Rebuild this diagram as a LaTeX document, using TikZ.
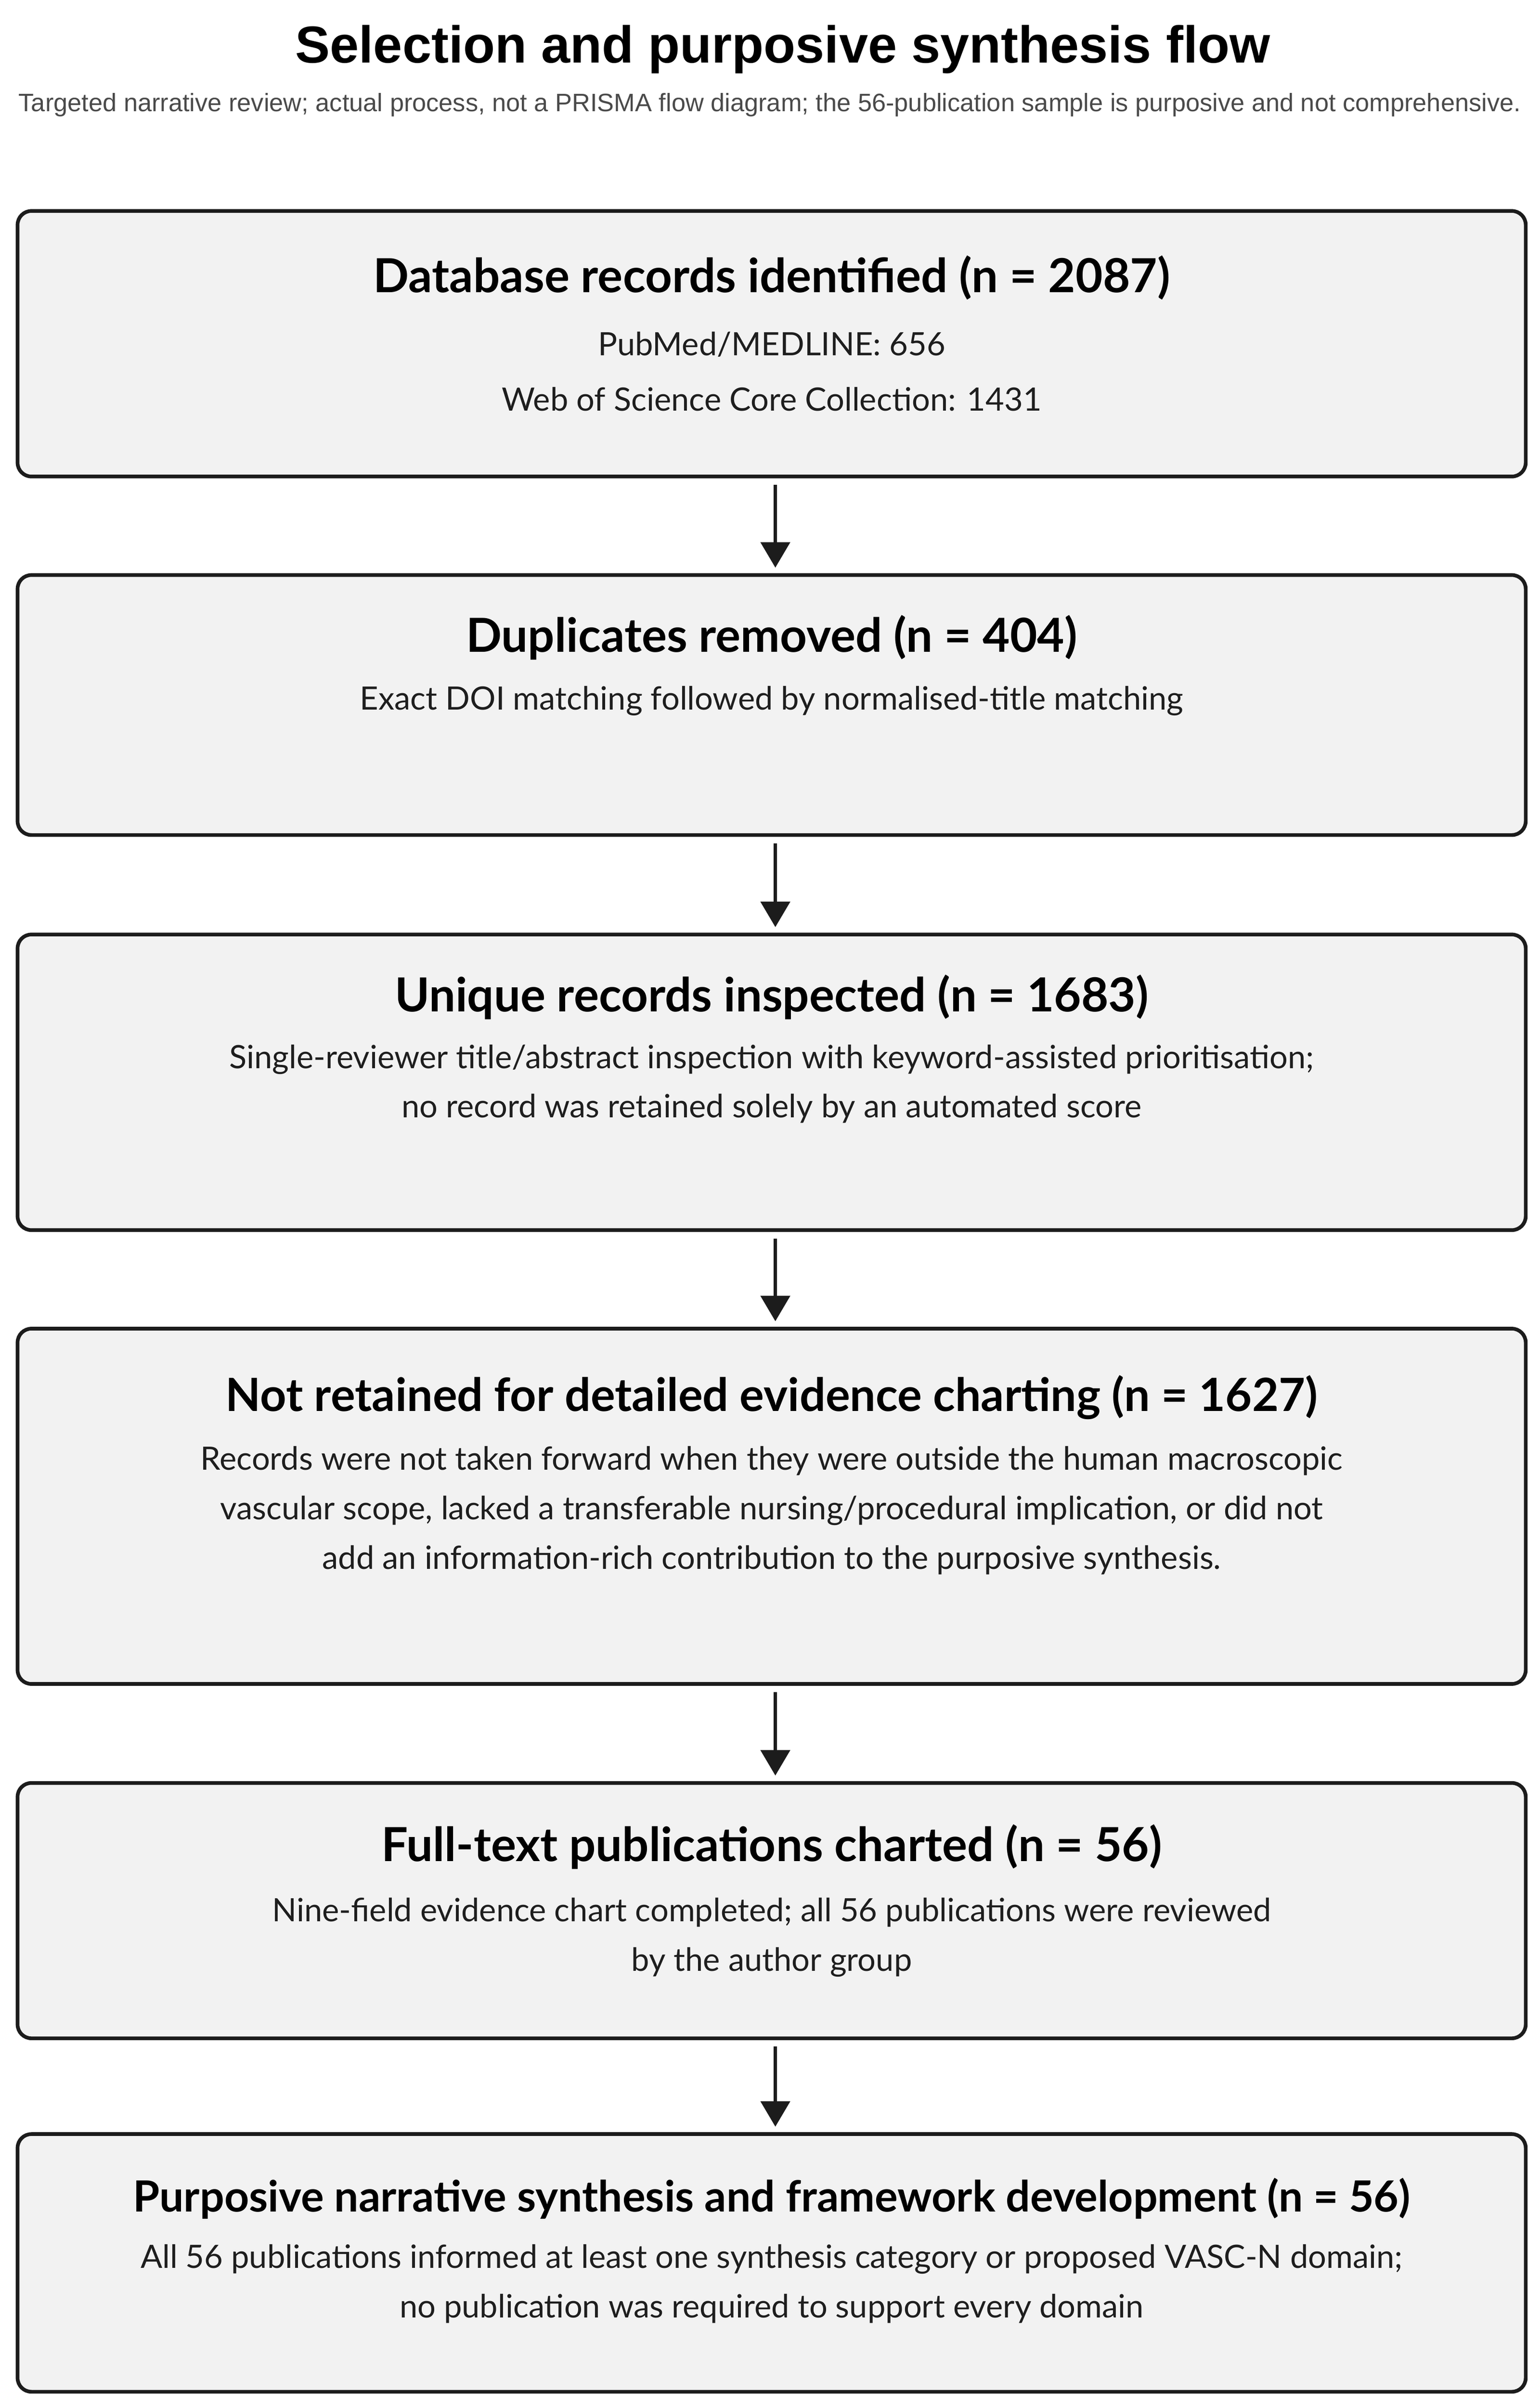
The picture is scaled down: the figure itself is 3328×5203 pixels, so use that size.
\documentclass[tikz,border=0pt]{standalone}
\usepackage{fontspec}
\setmainfont{Lato}
\newfontfamily\titlefont{Liberation Sans}
\usetikzlibrary{arrows.meta}
\definecolor{boxfill}{HTML}{F2F2F2}
\definecolor{boxline}{HTML}{1C1C1C}
\definecolor{subgray}{HTML}{4A4A4A}
\definecolor{bodytext}{HTML}{1E1E1E}
\tikzset{
  flowbox/.style={draw=boxline, fill=boxfill, line width=1.6pt, rounded corners=6pt,
    minimum width=652pt, inner sep=0pt},
  headtext/.style={font=\fontsize{#1}{22}\selectfont\bfseries, text=black, inner sep=0pt},
  headtext/.default=20.3,
  bodyblock/.style={font=\fontsize{13.9}{21.4}\selectfont, text=bodytext, align=center, inner sep=0pt},
  flowarrow/.style={draw=boxline, line width=1.4pt, -{Triangle[width=12.6pt,length=11pt]}},
}
\begin{document}
\begin{tikzpicture}[x=0.2pt,y=-0.2pt]
\useasboundingbox[fill=white] (0,0) rectangle (3328,5203);
% title
\node[font=\titlefont\fontsize{22.5}{26}\selectfont\bfseries, inner sep=0pt] (title) at (1692,107) {Selection and purposive synthesis flow};
\node[font=\titlefont\fontsize{10.9}{13}\selectfont, text=subgray, inner sep=0pt] (subtitle) at (1664,227) {Targeted narrative review; actual process, not a PRISMA flow diagram; the 56-publication sample is purposive and not comprehensive.};
% boxes
\node[flowbox, minimum height=114.8pt] (b1) at (1668,743) {};
\node[flowbox, minimum height=112.4pt] (b2) at (1668,1524) {};
\node[flowbox, minimum height=127.8pt] (b3) at (1668,2339.5) {};
\node[flowbox, minimum height=153.6pt] (b4) at (1668,3256) {};
\node[flowbox, minimum height=110.4pt] (b5) at (1668,4130) {};
\node[flowbox, minimum height=111.4pt] (b6) at (1668,4891.5) {};
% texts
\node[headtext] (h1) at (1668,600) {Database records identified (n = 2087)};
\node[bodyblock, font=\fontsize{13.9}{23.8}\selectfont] (t1) at (1668,803) {PubMed/MEDLINE: 656\\Web of Science Core Collection: 1431};
\node[headtext] (h2) at (1668,1378) {Duplicates removed (n = 404)};
\node[bodyblock] (t2) at (1668,1515) {Exact DOI matching followed by normalised-title matching};
\node[headtext] (h3) at (1668,2155) {Unique records inspected (n = 1683)};
\node[bodyblock] (t3) at (1668,2343) {Single-reviewer title/abstract inspection with keyword-assisted prioritisation;\\no record was retained solely by an automated score};
\node[headtext=19.8] (h4) at (1668,3021) {Not retained for detailed evidence charting (n = 1627)};
\node[bodyblock] (t4) at (1668,3265) {Records were not taken forward when they were outside the human macroscopic\\vascular scope, lacked a transferable nursing/procedural implication, or did not\\add an information-rich contribution to the purposive synthesis.};
\node[headtext] (h5) at (1668,3992) {Full-text publications charted (n = 56)};
\node[bodyblock] (t5) at (1668,4188) {Nine-field evidence chart completed; all 56 publications were reviewed\\by the author group};
\node[headtext=18.6] (h6) at (1668,4752) {Purposive narrative synthesis and framework development (n = 56)};
\node[bodyblock] (t6) at (1668,4937) {All 56 publications informed at least one synthesis category or proposed VASC-N domain;\\no publication was required to support every domain};
% arrows
\draw[flowarrow] ([xshift=1.6pt,yshift=-2.8pt]b1.south) -- ([xshift=1.6pt,yshift=2.4pt]b2.north);
\draw[flowarrow] ([xshift=1.6pt,yshift=-2.8pt]b2.south) -- ([xshift=1.6pt,yshift=2.4pt]b3.north);
\draw[flowarrow] ([xshift=1.6pt,yshift=-2.8pt]b3.south) -- ([xshift=1.6pt,yshift=2.4pt]b4.north);
\draw[flowarrow] ([xshift=1.6pt,yshift=-2.8pt]b4.south) -- ([xshift=1.6pt,yshift=2.4pt]b5.north);
\draw[flowarrow] ([xshift=1.6pt,yshift=-2.8pt]b5.south) -- ([xshift=1.6pt,yshift=2.4pt]b6.north);
\end{tikzpicture}
\end{document}
